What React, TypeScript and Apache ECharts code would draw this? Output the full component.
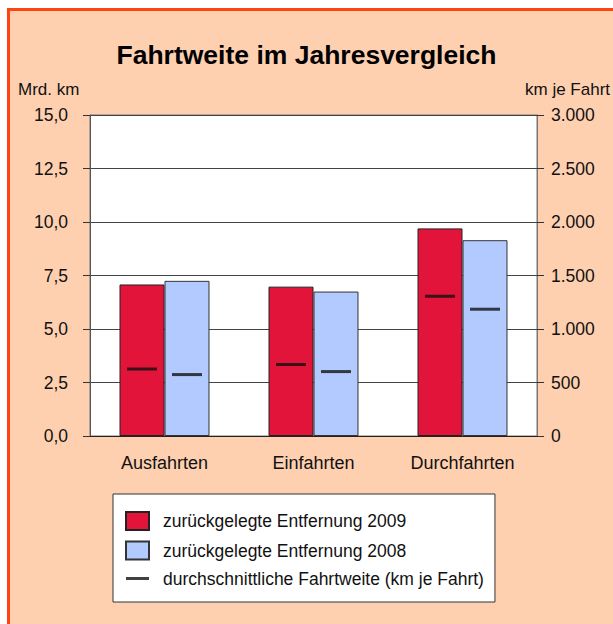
import React, { useEffect, useRef } from "react";
import * as echarts from "echarts";

const categories = ["Ausfahrten", "Einfahrten", "Durchfahrten"];
const distance2009 = [7.08, 6.98, 9.7];
const distance2008 = [7.25, 6.75, 9.15];
const avgTrip2009 = [626, 668, 1306];
const avgTrip2008 = [574, 602, 1185];
const leftTicks = { min: 0, max: 15, interval: 2.5 };
const rightTicks = { min: 0, max: 3000, interval: 500 };

const NAME_2009 = "zurückgelegte Entfernung 2009";
const NAME_2008 = "zurückgelegte Entfernung 2008";
const NAME_AVG = "durchschnittliche Fahrtweite (km je Fahrt)";

const FONT = "'Liberation Sans', Arial, sans-serif";

export default function App() {
  const ref = useRef<HTMLDivElement>(null);
  useEffect(() => {
    if (!ref.current) return;
    const chart = echarts.init(ref.current, null, { renderer: "svg" });
    const thousands = (v: number) =>
      String(Math.round(v)).replace(/\B(?=(\d{3})+(?!\d))/g, ".");
    chart.setOption({
      animation: false,
      textStyle: { fontFamily: FONT },
      title: {
        text: "Fahrtweite im Jahresvergleich",
        left: "center",
        top: 36,
        textStyle: { fontFamily: FONT, fontSize: 26.5, fontWeight: "bold", color: "#000" },
      },
      graphic: [
        {
          type: "text",
          left: 18,
          top: 81,
          style: { text: "Mrd. km", font: `17px ${FONT}`, fill: "#111" },
        },
        {
          type: "text",
          left: 525,
          top: 81,
          style: { text: "km je Fahrt", font: `17px ${FONT}`, fill: "#111" },
        },
      ],
      legend: {
        orient: "vertical",
        left: 113,
        top: 494,
        padding: [17, 11, 14, 12],
        itemGap: 9.5,
        itemWidth: 23,
        itemHeight: 18,
        backgroundColor: "#fff",
        borderColor: "#333",
        borderWidth: 1,
        textStyle: { fontFamily: FONT, fontSize: 17.5, color: "#111", padding: [0, 0, 0, 9] },
        data: [
          { name: NAME_2009, icon: "rect" },
          { name: NAME_2008, icon: "rect" },
          {
            name: NAME_AVG,
            icon: "path://M0,0L0,0M23,18L23,18M0,7H23V10H0Z",
          },
        ],
      },
      grid: {
        left: 90,
        right: 76,
        top: 115,
        bottom: 188,
        show: true,
        backgroundColor: "#fff",
        borderColor: "#777",
        borderWidth: 1,
      },
      xAxis: {
        type: "category",
        data: categories,
        axisTick: { alignWithLabel: true, length: 8, lineStyle: { color: "#555" } },
        axisLine: { lineStyle: { color: "#222", width: 1 } },
        axisLabel: { fontFamily: FONT, fontSize: 18, color: "#111", margin: 18 },
      },
      yAxis: [
        {
          type: "value",
          ...leftTicks,
          axisLine: { show: true, lineStyle: { color: "#555" } },
          axisTick: { show: true, length: 7, lineStyle: { color: "#333" } },
          splitLine: { show: true, lineStyle: { color: "#444", width: 1 } },
          axisLabel: {
            fontFamily: FONT,
            fontSize: 17.5,
            color: "#111",
            margin: 22,
            formatter: (v: number) => v.toFixed(1).replace(".", ","),
          },
        },
        {
          type: "value",
          position: "right",
          ...rightTicks,
          axisLine: { show: true, lineStyle: { color: "#777" } },
          axisTick: { show: true, length: 7, lineStyle: { color: "#333" } },
          splitLine: { show: false },
          axisLabel: {
            fontFamily: FONT,
            fontSize: 17.5,
            color: "#111",
            margin: 14,
            formatter: thousands,
          },
        },
      ],
      series: [
        {
          name: NAME_2009,
          type: "bar",
          data: distance2009,
          barGap: "0%",
          barCategoryGap: "39.6%",
          itemStyle: { color: "#E3143A", borderColor: "#222", borderWidth: 1 },
        },
        {
          name: NAME_2008,
          type: "bar",
          data: distance2008,
          barGap: "0%",
          barCategoryGap: "39.6%",
          itemStyle: { color: "#B2CAFF", borderColor: "#333", borderWidth: 1 },
        },
        {
          name: NAME_AVG,
          type: "scatter",
          yAxisIndex: 1,
          data: avgTrip2009,
          symbol: "rect",
          symbolSize: [30, 3],
          symbolOffset: [-22.5, 0],
          itemStyle: { color: "#111" },
          z: 5,
        },
        {
          name: NAME_AVG,
          type: "scatter",
          yAxisIndex: 1,
          data: avgTrip2008,
          symbol: "rect",
          symbolSize: [30, 3],
          symbolOffset: [22.5, 0],
          itemStyle: { color: "#111" },
          z: 5,
        },
      ],
    });
    return () => chart.dispose();
  }, []);

  return (
    <div
      style={{
        position: "fixed",
        left: 0,
        top: 0,
        width: 613,
        height: 624,
        background: "#fff",
        overflow: "hidden",
      }}
    >
      <div
        style={{
          position: "absolute",
          left: 7,
          top: 8,
          width: 640,
          height: 640,
          border: "3px solid #FF4412",
          background: "#FED0B0",
        }}
      />
      <div ref={ref} style={{ position: "absolute", left: 0, top: 0, width: 613, height: 624 }} />
    </div>
  );
}
